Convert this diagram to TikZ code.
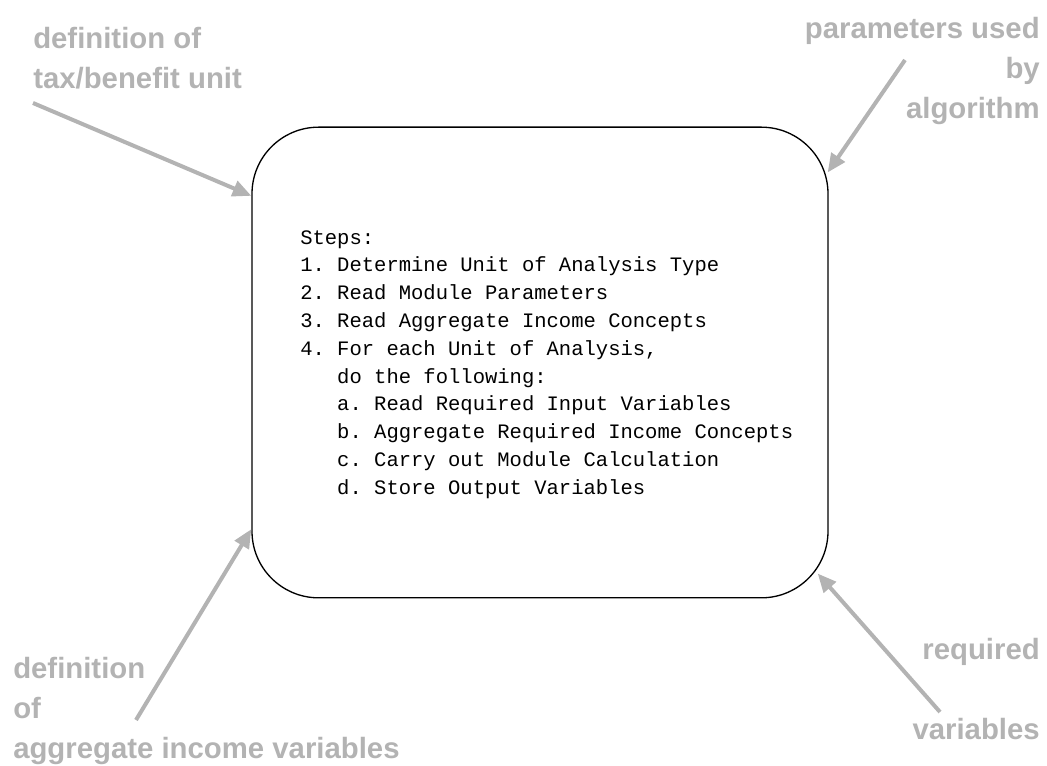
\documentclass[tikz,border=0pt]{standalone}
\usepackage{fontspec}
\setmainfont{Liberation Sans}
\setmonofont{Liberation Mono}
\usepackage{xcolor}
\usepackage{tikz}
\usetikzlibrary{arrows.meta, positioning, calc}
\definecolor{notegray}{HTML}{B3B3B3}

\begin{document}
\begin{tikzpicture}[x=0.75pt, y=-0.75pt,
  algo/.style={draw, line width=1pt, rounded corners=50pt, minimum width=432pt,
               minimum height=353pt, inner sep=0pt},
  steplist/.style={inner sep=0pt, align=left, font=\fontsize{15.4}{20.85}\selectfont\ttfamily},
  note/.style={inner sep=0pt, text=notegray, font=\fontsize{22}{30}\selectfont\bfseries},
  arr/.style={-{Triangle[length=14pt, width=12pt]}, line width=3pt, draw=notegray},
]
  \useasboundingbox (0,0) rectangle (1047,766);

  \node[algo] (steps) at (540,362.5) {};
  \node[steplist, anchor=north west] (list) at (300,230) {Steps:\\
    1. Determine Unit of Analysis Type\\
    2. Read Module Parameters\\
    3. Read Aggregate Income Concepts\\
    4. For each Unit of Analysis,\\
    \hphantom{4.\ }do the following:\\
    \hphantom{4.\ }a. Read Required Input Variables\\
    \hphantom{4.\ }b. Aggregate Required Income Concepts\\
    \hphantom{4.\ }c. Carry out Module Calculation\\
    \hphantom{4.\ }d. Store Output Variables};

  \node[note, anchor=north west, align=left] (unitdef) at (33,27) {definition of\\tax/benefit unit};
  \node[note, anchor=north east, align=right] (params) at (1040,17) {parameters used\\by\\algorithm};
  \node[note, anchor=north west, align=left] (aggdef) at (13,657) {definition\\of\\aggregate income variables};
  \node[note, anchor=north east, align=right] (reqvars) at (1040,638) {required\\[30pt]variables};

  \coordinate (unittail) at (33,103);
  \coordinate (paramtail) at (905,60);
  \coordinate (aggtail) at (136,720);
  \coordinate (reqtail) at (940,712);

  \draw[arr] (unittail) -- (steps.150);
  \draw[arr] (paramtail) -- ($(steps.north east)+(-1,46)$);
  \draw[arr] (aggtail) -- (steps.210);
  \draw[arr] (reqtail) -- ($(steps.south east)+(-11,-25)$);
\end{tikzpicture}
\end{document}
